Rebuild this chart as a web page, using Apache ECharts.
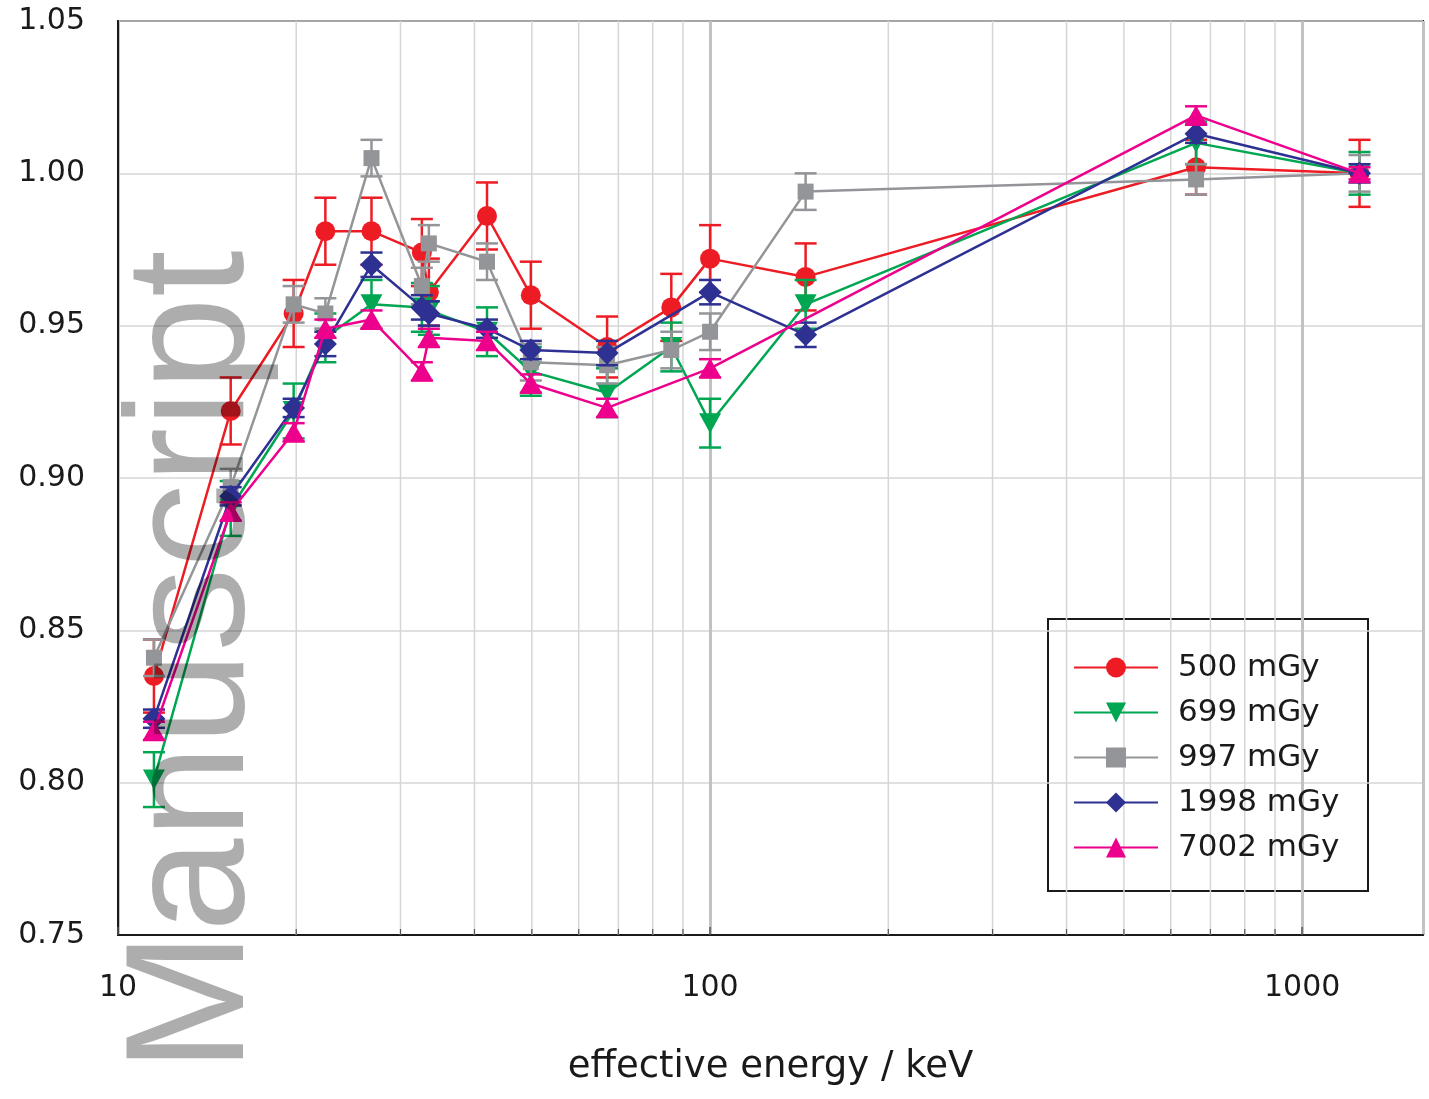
<!DOCTYPE html>
<html>
<head>
<meta charset="utf-8">
<script src="https://cdn.jsdelivr.net/npm/echarts@6/dist/echarts.min.js"></script>
<style>
  html, body { margin: 0; padding: 0; background: #ffffff; }
  #chart { width: 1429px; height: 1099px; }
</style>
</head>
<body>
<div id="chart"></div>
<script>
// Effective photon energies (keV)
const energies = [11.5, 15.5, 19.8, 22.4, 26.8, 32.6, 33.5, 42, 49.8, 67, 86, 100, 145, 662, 1250];

// Relative response and uncertainties per dose level (null = not measured)
const resp500  = [0.835, 0.922, 0.954, 0.981, 0.981, 0.974, 0.961, 0.986, 0.960, 0.943, 0.956, 0.972, 0.966, 1.002, 1.000];
const err500   = [0.012, 0.011, 0.011, 0.011, 0.011, 0.011, 0.011, 0.011, 0.011, 0.010, 0.011, 0.011, 0.011, 0.009, 0.011];
const resp699  = [0.801, 0.890, 0.922, 0.946, 0.957, 0.956, 0.955, 0.948, 0.935, 0.928, 0.943, 0.918, 0.957, 1.010, 1.000];
const err699   = [0.009, 0.009, 0.009, 0.008, 0.008, 0.008, 0.008, 0.008, 0.008, 0.008, 0.008, 0.008, 0.008, 0.007, 0.007];
const resp997  = [0.841, 0.897, 0.957, 0.954, 1.005, 0.963, 0.977, 0.971, 0.938, 0.937, 0.942, 0.948, 0.994, 0.998, 1.000];
const err997   = [0.006, 0.006, 0.006, 0.005, 0.006, 0.006, 0.006, 0.006, 0.006, 0.006, 0.006, 0.006, 0.006, 0.005, 0.006];
const resp1998 = [0.821, 0.894, 0.923, 0.944, 0.970, 0.956, 0.954, 0.949, 0.942, 0.941, null,  0.961, 0.947, 1.013, 1.000];
const err1998  = [0.003, 0.003, 0.003, 0.004, 0.004, 0.004, 0.004, 0.003, 0.003, 0.004, null,  0.004, 0.004, 0.003, 0.003];
const resp7002 = [0.817, 0.889, 0.915, 0.949, 0.952, 0.935, 0.946, 0.945, 0.931, 0.923, null,  0.936, null,  1.019, 1.000];
const err7002  = [0.003, 0.003, 0.003, 0.003, 0.003, 0.003, 0.003, 0.003, 0.003, 0.003, null,  0.003, null,  0.003, 0.002];

const seriesNames = ['500 mGy', '699 mGy', '997 mGy', '1998 mGy', '7002 mGy'];

// Axis settings
const xMin = 10, xMax = 1600;
const yMin = 0.75, yMax = 1.05, yStep = 0.05;
const minorGridEnergies = [20, 30, 40, 50, 60, 70, 80, 90, 200, 300, 400, 500, 600, 700, 800, 900];

const FONT = '"DejaVu Sans", "Liberation Sans", Arial, sans-serif';
const colors = ['#ED1C24', '#00A651', '#939598', '#2E3192', '#EC008C'];
const symbols = ['circle', 'path://M0,0 L20,0 L10,18 Z', 'rect', 'diamond', 'triangle'];
const symbolSizes = [20, [22, 20], 16, [23, 23], [23, 20]];

const responses = [resp500, resp699, resp997, resp1998, resp7002];
const errors = [err500, err699, err997, err1998, err7002];

function pointsOf(resp) {
  const pts = [];
  energies.forEach((e, i) => { if (resp[i] != null) pts.push([e, resp[i]]); });
  return pts;
}
function barsOf(resp, err) {
  const bars = [];
  energies.forEach((e, i) => {
    if (resp[i] != null && err[i] != null) bars.push([e, resp[i] - err[i], resp[i] + err[i]]);
  });
  return bars;
}

function renderErrorBar(params, api) {
  const x = api.value(0);
  const lo = api.coord([x, api.value(1)]);
  const hi = api.coord([x, api.value(2)]);
  const half = 11;
  const style = { stroke: api.visual('color'), lineWidth: 2.5 };
  return {
    type: 'group',
    children: [
      { type: 'line', shape: { x1: lo[0], y1: lo[1], x2: hi[0], y2: hi[1] }, style },
      { type: 'line', shape: { x1: lo[0] - half, y1: lo[1], x2: lo[0] + half, y2: lo[1] }, style },
      { type: 'line', shape: { x1: hi[0] - half, y1: hi[1], x2: hi[0] + half, y2: hi[1] }, style }
    ]
  };
}

// Vertical minor gridlines with short inward ticks on the energy axis
function renderMinorGrid(params, api) {
  const v = api.value(0);
  const bottom = api.coord([v, yMin]);
  const top = api.coord([v, yMax]);
  return {
    type: 'group',
    children: [
      { type: 'line', shape: { x1: bottom[0], y1: bottom[1], x2: top[0], y2: top[1] },
        style: { stroke: '#d6d6d6', lineWidth: 1.5 } },
      { type: 'line', shape: { x1: bottom[0], y1: bottom[1], x2: bottom[0], y2: bottom[1] - 6 },
        style: { stroke: '#555555', lineWidth: 1.2 } }
    ]
  };
}

const series = [{
  name: 'minor grid',
  type: 'custom',
  renderItem: renderMinorGrid,
  data: minorGridEnergies.map(v => [v, yMin]),
  encode: { x: 0, y: 1 },
  silent: true,
  z: 1
}];

seriesNames.forEach((name, k) => {
  series.push({
    name: name + ' uncertainty',
    type: 'custom',
    renderItem: renderErrorBar,
    data: barsOf(responses[k], errors[k]),
    encode: { x: 0, y: [1, 2] },
    itemStyle: { color: colors[k] },
    silent: true,
    z: 2 + k * 2
  });
  series.push({
    name: name,
    type: 'line',
    data: pointsOf(responses[k]),
    symbol: symbols[k],
    symbolSize: symbolSizes[k],
    showAllSymbol: true,
    color: colors[k],
    lineStyle: { color: colors[k], width: 2.5 },
    itemStyle: { color: colors[k], opacity: 1 },
    animation: false,
    z: 3 + k * 2
  });
});

const chart = echarts.init(document.getElementById('chart'), null, { renderer: 'canvas' });
chart.setOption({
  animation: false,
  backgroundColor: '#ffffff',
  grid: {
    left: 118, right: 6, top: 21, bottom: 164,
    outerBoundsMode: 'none',
    containLabel: false,
    show: true, borderColor: '#1a1a1a', borderWidth: 2, backgroundColor: 'transparent'
  },
  xAxis: {
    type: 'log',
    logBase: 10,
    min: xMin,
    max: xMax,
    name: 'effective energy / keV',
    nameLocation: 'middle',
    nameGap: 114,
    nameTextStyle: { fontFamily: FONT, fontSize: 37, color: '#1a1a1a' },
    axisLine: { lineStyle: { color: '#1a1a1a', width: 2 } },
    axisTick: { inside: true, length: 8, lineStyle: { color: '#555555', width: 1.5 } },
    axisLabel: {
      fontFamily: FONT, fontSize: 30, color: '#1a1a1a', margin: 38,
      showMaxLabel: false,
      formatter: v => String(Math.round(v))
    },
    splitLine: { show: true, lineStyle: { color: '#c2c2c2', width: 3 } },
    minorTick: { show: false },
    minorSplitLine: { show: false }
  },
  yAxis: {
    type: 'value',
    min: yMin,
    max: yMax,
    interval: yStep,
    axisLine: { show: true, lineStyle: { color: '#1a1a1a', width: 2 } },
    axisTick: { show: false },
    axisLabel: {
      fontFamily: FONT, fontSize: 30, color: '#1a1a1a', margin: 33,
      formatter: v => v.toFixed(2)
    },
    splitLine: { show: true, lineStyle: { color: '#d6d6d6', width: 1.5 } }
  },
  legend: {
    data: seriesNames,
    orient: 'vertical',
    left: 1073,
    top: 652,
    padding: 0,
    itemWidth: 84,
    itemHeight: 25,
    itemGap: 14,
    textStyle: { fontFamily: FONT, fontSize: 31, color: '#1a1a1a', lineHeight: 25, padding: [0, 0, 0, 15] },
    selectedMode: false
  },
  graphic: [
    {
      type: 'rect',
      shape: { x: 1048, y: 619, width: 320, height: 272 },
      style: { fill: 'rgba(255,255,255,0)', stroke: '#1a1a1a', lineWidth: 2 },
      z: 0,
      silent: true
    },
    {
      type: 'text',
      x: 197,
      y: 1072,
      rotation: Math.PI / 2,
      style: {
        text: 'Manuscript',
        font: '168px "Liberation Sans", Arial, sans-serif',
        fill: 'rgba(0,0,0,0.32)',
        align: 'left',
        verticalAlign: 'middle'
      },
      z: 100,
      silent: true
    }
  ],
  series: series
});
</script>
</body>
</html>
